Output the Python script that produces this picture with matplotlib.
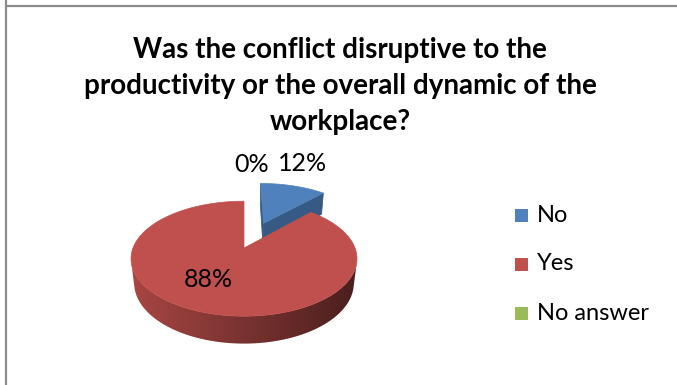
import numpy as np
import matplotlib.pyplot as plt
from matplotlib.patches import Polygon, Rectangle
from matplotlib.lines import Line2D

# Survey answers
labels = ["No", "Yes", "No answer"]
shares = [12, 88, 0]
colors = ["#4F81BD", "#C0504D", "#9BBB59"]
explode = [0.52, 0.0, 0.0]

title = ("Was the conflict disruptive to the\n"
         "productivity or the overall dynamic of the\n"
         "workplace?")

# 3D pie view settings (pixel space)
CX, CY = 244, 248
SCALE = 111
TILT = np.radians(30)
DIST = 4.66
DEPTH = 0.26
CAM = np.array([0.0, DIST * np.sin(TILT), -DIST * np.cos(TILT)])

# label placement: (radius along mid angle, dx, dy) in pixels
label_place = [(1.0, 9, -22), (0.62, -7, -4), (1.0, 8, -37)]


def project(x, h, z):
    yv = z * np.sin(TILT) + h * np.cos(TILT)
    dv = z * np.cos(TILT) - h * np.sin(TILT)
    s = DIST / (DIST + dv)
    return CX + SCALE * x * s, CY - SCALE * yv * s


def rgb(c):
    return np.array([int(c[i:i + 2], 16) / 255 for i in (1, 3, 5)])


fig = plt.figure(figsize=(6.77, 3.85), dpi=100)
ax = fig.add_axes([0, 0, 1, 1])
ax.set_xlim(0, 677)
ax.set_ylim(385, 0)
ax.axis("off")

# pie extent on screen, used for the side gradient
xl, _ = project(-1, 0, -0.17)
xr, _ = project(1, 0, -0.17)

total = sum(shares)
cum = 0.0
label_anchor = []
for v, col, ex in zip(shares, colors, explode):
    t0 = 90 - cum / total * 360
    t1 = t0 - v / total * 360
    cum += v
    mid = np.radians((t0 + t1) / 2)
    ox, oz = ex * np.cos(mid), ex * np.sin(mid)
    label_anchor.append((mid, ox, oz))
    if v == 0:
        continue

    # flat cut faces at both ends of the slice
    for ang, sign in ((np.radians(t0), 1), (np.radians(t1), -1)):
        nx, nz = -np.sin(ang) * sign, np.cos(ang) * sign
        px, pz = ox + 0.5 * np.cos(ang), oz + 0.5 * np.sin(ang)
        to_cam = CAM - np.array([px, -DEPTH / 2, pz])
        if nx * to_cam[0] + nz * to_cam[2] <= 0:
            continue
        pts3 = [(ox, 0, oz), (ox + np.cos(ang), 0, oz + np.sin(ang)),
                (ox + np.cos(ang), -DEPTH, oz + np.sin(ang)), (ox, -DEPTH, oz)]
        pts = [project(*p) for p in pts3]
        fc = rgb(col) * 0.7
        ax.add_patch(Polygon(pts, closed=True, facecolor=fc, edgecolor=fc, lw=0.5))

    # outer wall: visible part only, filled with a left-to-right gradient
    th = np.radians(np.linspace(t1, t0, 400))
    to_cam_x = CAM[0] - (ox + np.cos(th))
    to_cam_z = CAM[2] - (oz + np.sin(th))
    vis = np.cos(th) * to_cam_x + np.sin(th) * to_cam_z > 0
    if vis.any():
        tv = th[vis]
        upper = [project(ox + np.cos(t), 0, oz + np.sin(t)) for t in tv]
        lower = [project(ox + np.cos(t), -DEPTH, oz + np.sin(t)) for t in tv[::-1]]
        wall = Polygon(upper + lower, closed=True, facecolor="none", edgecolor="none")
        ax.add_patch(wall)
        ys = [p[1] for p in upper + lower]
        f = 0.88 - 0.50 * np.linspace(0, 1, 256)
        grad = np.clip(rgb(col)[None, None, :] * f[None, :, None], 0, 1)
        im = ax.imshow(grad, extent=[xl, xr, max(ys) + 2, min(ys) - 2],
                       aspect="auto", interpolation="bilinear", zorder=1)
        im.set_clip_path(wall)

    top = [project(ox, 0, oz)] + [project(ox + np.cos(t), 0, oz + np.sin(t)) for t in th]
    ax.add_patch(Polygon(top, closed=True, facecolor=col, edgecolor=col, lw=0.5, zorder=1))

ax.set_xlim(0, 677)
ax.set_ylim(385, 0)

# data labels
for v, (mid, ox, oz), (r, dx, dy) in zip(shares, label_anchor, label_place):
    lx, ly = project(ox + r * np.cos(mid), 0, oz + r * np.sin(mid))
    ax.text(lx + dx, ly + dy, f"{v}%", ha="center", va="center",
            fontsize=18, family="Lato", color="black")

# title
ax.text(340, 86, title, ha="center", va="center", fontsize=20,
        family="Lato", fontweight="bold", linespacing=1.48)

# legend
for i, (lab, col) in enumerate(zip(labels, colors)):
    y = 215 + i * 49
    ax.add_patch(Rectangle((515, y - 6.5), 13, 13, facecolor=col, edgecolor="none"))
    ax.text(537, y, lab, ha="left", va="center", fontsize=17, family="Lato")

# chart frame, drawn on the figure in pixel units
fig.add_artist(Line2D([5.5, 5.5], [0, 385], color="#8c8c8c", lw=1.6,
                      transform=None, solid_capstyle="butt"))
fig.add_artist(Line2D([5.5, 677], [385 - 5.5, 385 - 5.5], color="#8c8c8c", lw=1.6,
                      transform=None, solid_capstyle="butt"))

plt.savefig("out.png", dpi=100)
